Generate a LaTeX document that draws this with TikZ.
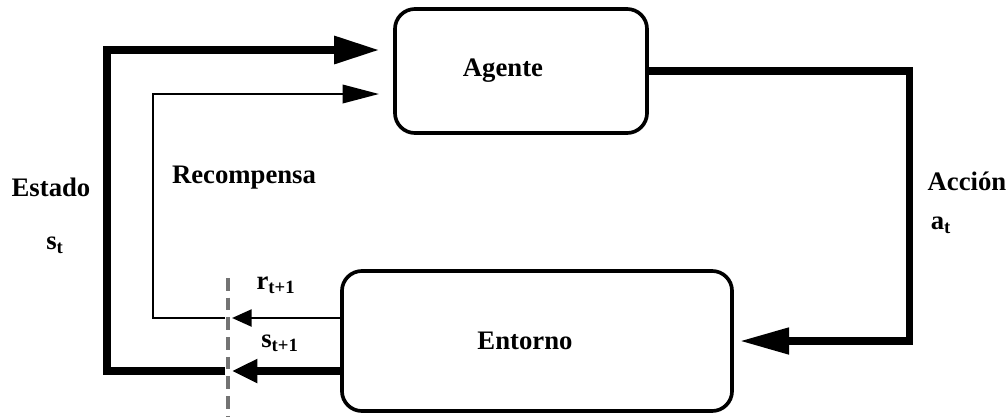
\documentclass[tikz,border=0pt]{standalone}
\usepackage{fontspec}
\setmainfont{Liberation Serif}
\usetikzlibrary{positioning, arrows.meta, calc}

\newcommand{\idx}[2]{#1\textsubscript{#2}}

\begin{document}
\begin{tikzpicture}[x=0.025cm, y=-0.025cm, every node/.style={font=\fontsize{19}{22}\selectfont\bfseries},
  every label/.style={font=\fontsize{19}{22}\selectfont\bfseries},
  block/.style={rectangle, rounded corners=0.5cm, draw=black, line width=2.6pt, fill=white},
  thickflow/.style={line width=5pt, black},
  thinflow/.style={line width=2pt, black},
  cutline/.style={black!55, line width=2.4pt, dash pattern=on 9pt off 5pt}
]
\useasboundingbox (0,0) rectangle (1008,416);

% Blocks
\node[block, minimum width=6.3cm, minimum height=3.1cm, label={[xshift=-0.45cm]center:Agente}] (agent) at (521,71) {};
\node[block, minimum width=9.75cm, minimum height=3.5cm, label={[xshift=-0.3cm]center:Entorno}] (env) at (537,341) {};

% Helper points
\coordinate (cuttop) at (228,278);
\coordinate (cutbot) at (228,416);
\coordinate (sl) at (107,50);
\coordinate (rl) at (153,94);
\path ($(env.west)+(0,30)$) coordinate (sout) ($(env.west)+(0,-23)$) coordinate (rout);
\coordinate (scut) at (sout -| cuttop);
\coordinate (rcut) at (rout -| cuttop);

% Dashed cut
\draw[cutline] (cuttop) -- (cutbot);

% State loop
\draw[thickflow, -{Triangle[length=18pt, width=16pt]}] (sout) -- ($(scut)+(4,0)$);
\draw[thickflow, -{Triangle[length=32pt, width=19pt]}, shorten >=0.35cm] ($(scut)+(-3,0)$) -| (sl) -- (sl -| agent.west);

% Reward loop
\draw[thinflow, -{Triangle[length=14pt, width=12pt]}] (rout) -- ($(rcut)+(4,0)$);
\draw[thinflow, -{Triangle[length=26pt, width=13pt]}, shorten >=0.35cm] ($(rcut)+(-3,0)$) -| (rl) -- (rl -| agent.west);

% Action loop
\draw[thickflow, -{Triangle[length=35pt, width=18pt]}, shorten >=0.15cm] (agent.east) -| ($(env.east)+(176,0)$) -- (env.east);

% Labels
\node (state) at (51,187) {Estado};
\node (st) at (55,245) {\idx{s}{t}};
\node (reward) at (244,178) {Recompensa};
\node (action) at (967,181) {Acción};
\node (at) at (941,225) {\idx{a}{t}};
\node (rnext) at (276,285) {\idx{r}{t+1}};
\node (snext) at (280,343) {\idx{s}{t+1}};

\end{tikzpicture}
\end{document}
